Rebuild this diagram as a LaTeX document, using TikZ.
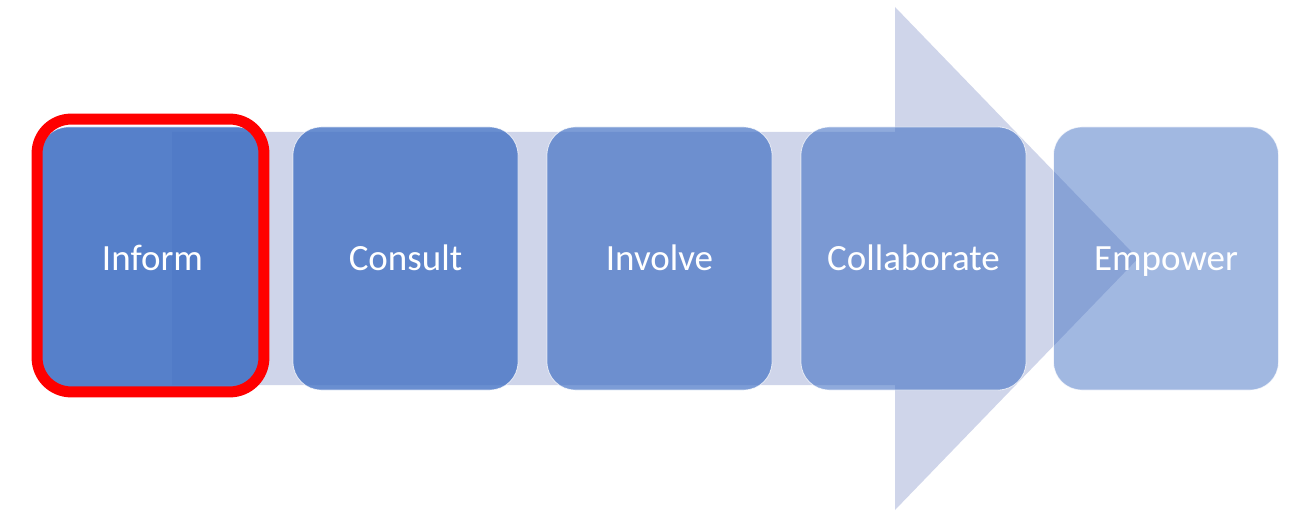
\documentclass[tikz,border=0pt]{standalone}
\usepackage{fontspec}
\setmainfont{Carlito}
\definecolor{arrowc}{HTML}{CFD5EA}
\definecolor{boxc}{HTML}{4472C4}
\definecolor{hlred}{HTML}{FF0000}
\begin{document}
\begin{tikzpicture}[x=1pt,y=-1pt,
  stagebox/.style={rectangle, rounded corners=28pt, minimum width=225pt, minimum height=263pt,
    fill=boxc, draw=white, draw opacity=0.7, line width=0.8pt, text=white, text opacity=1,
    font=\fontsize{37}{44}\selectfont, inner sep=0pt, text height=30pt, text depth=7pt},
  highlight/.style={draw=hlred, line width=11pt, rounded corners=34pt}]
\useasboundingbox (0,0) rectangle (1291,513);
% big background arrow
\fill[arrowc] (172,132) -- (895,132) -- (895,7) -- (1138,258.5) -- (895,510) -- (895,385) -- (172,385) -- cycle;
% stages
\node[stagebox, fill opacity=0.9] (inform) at (152.5,258.5) {Inform};
\node[stagebox, fill opacity=0.8] (consult) at (405.5,258.5) {Consult};
\node[stagebox, fill opacity=0.7] (involve) at (659.5,258.5) {Involve};
\node[stagebox, fill opacity=0.6] (collab) at (913.5,258.5) {Collaborate};
\node[stagebox, fill opacity=0.5] (empower) at (1166,258.5) {Empower};
% highlight around first stage
\draw[highlight] ([xshift=-2.5pt,yshift=7.5pt]inform.north west) rectangle ([xshift=-1.5pt,yshift=-1.5pt]inform.south east);
\end{tikzpicture}
\end{document}
